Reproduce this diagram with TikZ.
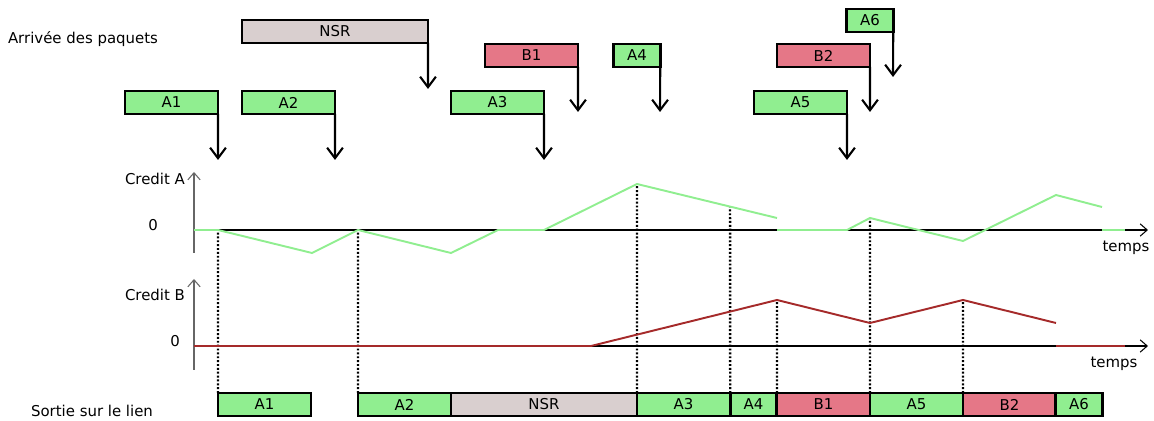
\documentclass[tikz,border=0pt]{standalone}
\usepackage{fontspec}
\setmainfont{DejaVu Sans}
\usetikzlibrary{arrows.meta}
\definecolor{vertA}{HTML}{90EE90}
\definecolor{roseB}{HTML}{E57787}
\definecolor{grisNSR}{HTML}{D9CFCF}
\definecolor{briqueB}{HTML}{A52A2A}
\tikzset{
  paquet/.style={draw=black, line width=1.5pt, inner sep=0pt, outer sep=0pt,
    minimum height=0.46cm, minimum width=1.86cm, font=\fontsize{8.5}{10}\selectfont},
  pqA/.style={paquet, fill=vertA},
  pqB/.style={paquet, fill=roseB},
  pqN/.style={paquet, fill=grisNSR, minimum width=3.72cm},
  court/.style={minimum width=0.93cm},
  arrivee/.style={line width=1.2pt, -{Straight Barb[length=6pt,width=9pt]}},
  axe/.style={line width=0.6pt, -{Straight Barb[length=4pt,width=7pt]}},
  repere/.style={line width=1.4pt, dash pattern=on 1.1pt off 1.1pt},
  texte/.style={font=\fontsize{8.5}{10}\selectfont, inner sep=0pt}
}
\begin{document}
\begin{tikzpicture}[x=0.02cm, y=-0.02cm]
    \useasboundingbox (0,0) rectangle (1154,421);
    % arrivee des paquets
    \node[texte] (titreIn) at (83,39) {Arrivée des paquets};
    \node[pqA] (A1) at (171.5,102.5) {A1};
    \node[pqA] (A2) at (288.5,102.5) {A2};
    \node[pqN] (NSR) at (335,31.5) {NSR};
    \node[pqA] (A3) at (497.5,102.5) {A3};
    \node[pqB] (B1) at (531.5,55.5) {B1};
    \node[pqA,court] (A4) at (637,55.5) {A4};
    \node[pqA,court] (A6) at (870,20.5) {A6};
    \node[pqB] (B2) at (823.5,55.5) {B2};
    \node[pqA] (A5) at (800.5,102.5) {A5};
    \coordinate (a1) at (218,160);
    \coordinate (a2) at (335,160);
    \coordinate (nsr) at (428,89);
    \coordinate (a3) at (544,160);
    \coordinate (b1) at (578,112);
    \coordinate (a4) at (660,112);
    \coordinate (a6) at (893,77);
    \coordinate (b2) at (870,112);
    \coordinate (a5) at (847,160);
    \draw[arrivee] (A1.south east) -- (a1);
    \draw[arrivee] (A2.south east) -- (a2);
    \draw[arrivee] (NSR.south east) -- (nsr);
    \draw[arrivee] (A3.south east) -- (a3);
    \draw[arrivee] (B1.south east) -- (b1);
    \draw[arrivee] (A4.south east) -- (a4);
    \draw[arrivee] (A6.south east) -- (a6);
    \draw[arrivee] (B2.south east) -- (b2);
    \draw[arrivee] (A5.south east) -- (a5);

    % sortie sur le lien
    \node[texte] (titreOut) at (92,411) {Sortie sur le lien};
    \node[pqA] (oA1) at (264.5,404.5) {A1};
    \node[pqA] (oA2) at (404.5,404.5) {A2};
    \node[pqN] (oNSR) at (544,404.5) {NSR};
    \node[pqA] (oA3) at (683.5,404.5) {A3};
    \node[pqA,court] (oA4) at (753.5,404.5) {A4};
    \node[pqB] (oB1) at (823.5,404.5) {B1};
    \node[pqA] (oA5) at (916.5,404.5) {A5};
    \node[pqB] (oB2) at (1009.5,404.5) {B2};
    \node[pqA,court] (oA6) at (1079,404.5) {A6};

    % reperes pointilles
    \draw[repere] (oA1.north west) -- (218,230);
    \draw[repere] (oA2.north west) -- (358,230);
    \draw[repere] (oA3.north west) -- (637,184);
    \draw[repere] (oA4.north west) -- (730,207);
    \draw[repere] (oB1.north west) -- (777,300);
    \draw[repere] (oA5.north west) -- (870,218);
    \draw[repere] (oB2.north west) -- (963,300);

    % credit A
    \draw[axe, black!60] (194,253) -- (194,172);
    \draw[axe] (194,230) -- (1148,230);
    \node[texte] (cA) at (155,179) {Credit A};
    \node[texte] (zA) at (153,225) {0};
    \node[texte] (tA) at (1126,248) {temps};
    \draw[vertA, line width=1.1pt] (194,230) -- (218,230) -- (312,253) -- (358,230)
        -- (451,253) -- (498,230) -- (544,230) -- (637,184) -- (777,218);
    \draw[vertA, line width=1.1pt] (777,230) -- (847,230) -- (870,218) -- (963,241)
        -- (1056,195) -- (1102,207);
    \draw[vertA, line width=1.1pt] (1102,230) -- (1125,230);

    % credit B
    \draw[axe, black!60] (194,370) -- (194,279);
    \draw[axe] (194,346) -- (1148,346);
    \node[texte] (cB) at (155,295) {Credit B};
    \node[texte] (zB) at (175,341) {0};
    \node[texte] (tB) at (1114,364) {temps};
    \draw[briqueB, line width=1.1pt] (194,346) -- (591,346) -- (777,300) -- (870,323)
        -- (963,300) -- (1056,323);
    \draw[briqueB, line width=1.1pt] (1056,346) -- (1125,346);
\end{tikzpicture}
\end{document}
